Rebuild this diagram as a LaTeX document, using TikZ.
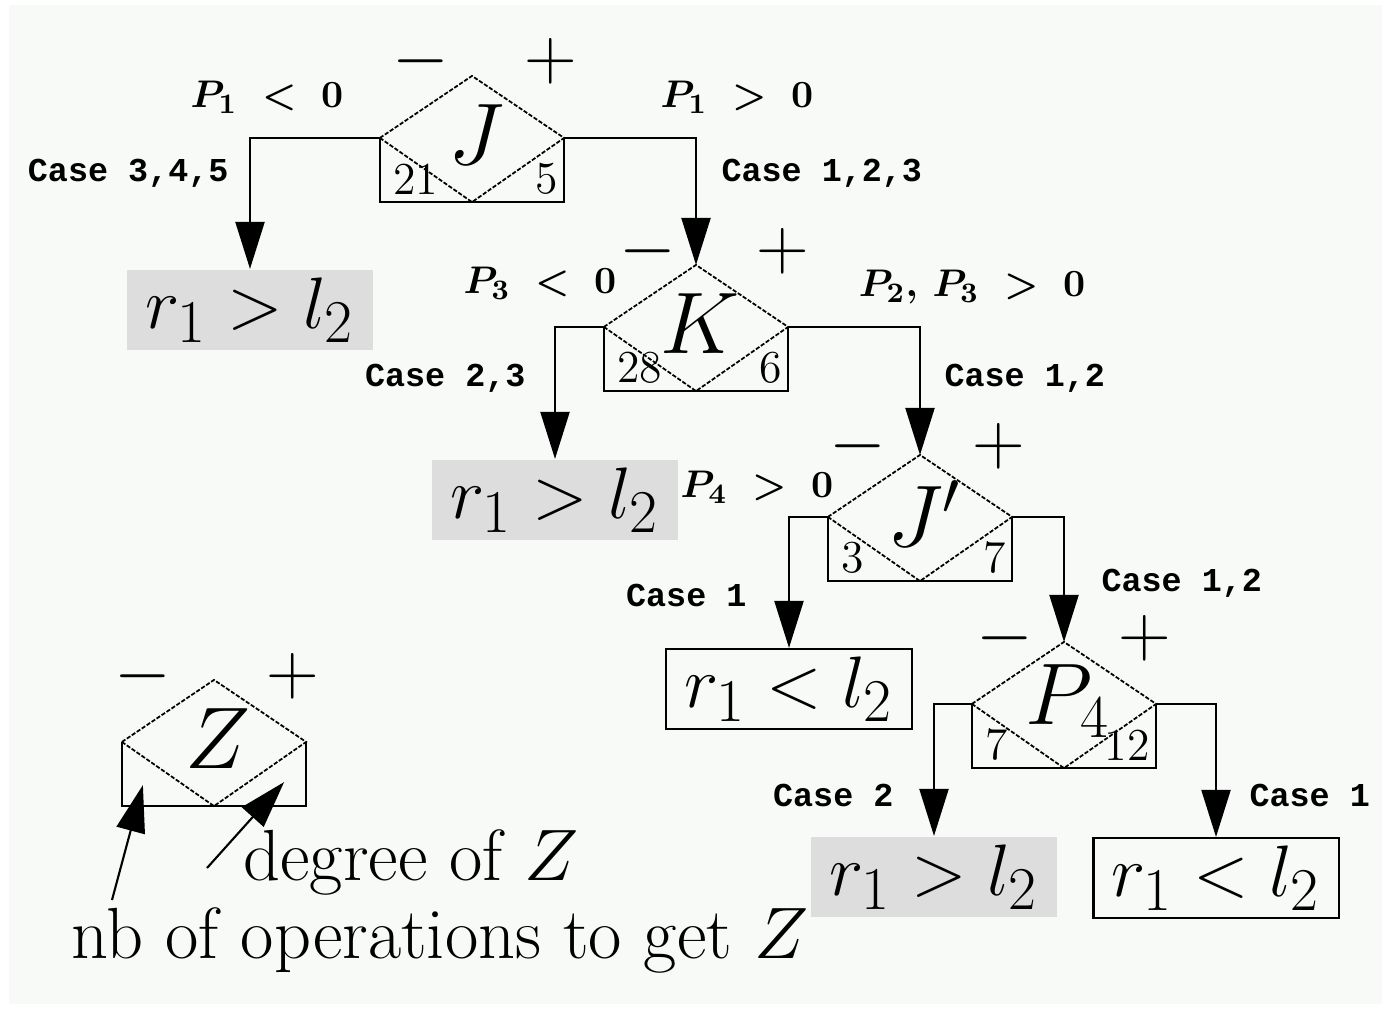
\documentclass[tikz,border=0pt]{standalone}
\usepackage{fontspec}
\newfontfamily\casefont{Liberation Mono}
\usetikzlibrary{arrows.meta,positioning,calc}
\definecolor{bgPaper}{HTML}{F8FAF8}
\definecolor{resGray}{HTML}{DCDDDC}
\tikzset{
    every picture/.style={line width=0.6pt, >={Triangle[length=0.47cm,width=0.29cm]}},
    % decision nodes: open box with a diamond on top
    decbox/.style={rectangle,minimum width=1.82cm,minimum height=0.62cm,inner sep=0pt},
    rhomb/.style={line width=0.5pt,dash pattern=on 1.2pt off 0.5pt},
    varname/.style={font=\fontsize{23.5}{26}\selectfont,inner sep=0pt},
    degnum/.style={font=\fontsize{13}{14}\selectfont,inner sep=1pt},
    sign/.style={font=\fontsize{20}{22}\selectfont,inner sep=0pt},
    % labels on the branches
    cond/.style={font=\fontsize{11}{13}\selectfont\boldmath,inner sep=1pt},
    casetxt/.style={font=\casefont\bfseries\fontsize{9.5}{11}\selectfont,inner sep=1pt},
    % result boxes
    result/.style={rectangle,minimum width=2.45cm,minimum height=0.8cm,font=\fontsize{22.8}{25}\selectfont,inner sep=0pt},
    shaded/.style={result,fill=resGray},
    framed/.style={result,draw},
    branch/.style={->},
    legtext/.style={font=\fontsize{20.6}{24}\selectfont}
}

\begin{document}
\begin{tikzpicture}[x=0.01cm,y=-0.01cm]
    % paper
    \useasboundingbox (0,0) rectangle (1391,1012);
    \fill[white] (0,0) rectangle (1391,1012);
    \fill[bgPaper] (9,5) rectangle (1382,1004);

    % Decision nodes and legend node (signs placed from the diamond top)
    \foreach \n/\px/\py/\lbl/\lnum/\rnum/\mx/\ppx/\sy in {J/472/170/J/21/5/-51/79/-15, K/696/359/K/28/6/-48/87/-14, Jp/920/549/{J'}/3/7/-62/79/-9, P/1064/736/{P_4}/7/12/-59/81/-4, Z/214/774/Z/{}/{}/-71/79/-4} {
        \node[decbox] (\n) at (\px,\py) {};
        \coordinate (\n-top) at ($(\n.north)+(0,-62)$);
        \draw (\n.north west) -- (\n.south west) -- (\n.south east) -- (\n.north east);
        \draw[rhomb] (\n.north west) -- (\n-top) -- (\n.north east) -- (\n.south) -- cycle;
        \node[varname] at ($(\n.north)+(4,-3)$) {$\lbl$};
        \node[degnum,anchor=west] at ($(\n.west)+(9,9)$) {\lnum};
        \node[degnum,anchor=east] at ($(\n.east)+(-2,9)$) {\rnum};
        \node[sign] at ($(\n-top)+(\mx,\sy)$) {$-$};
        \node[sign] at ($(\n-top)+(\ppx,\sy)$) {$+$};
    }

    % Results
    \node[shaded] (res1) at (250,310) {$r_1 > l_2$};
    \node[shaded] (res2) at (555,500) {$r_1 > l_2$};
    \node[framed] (res3) at (789,689) {$r_1 < l_2$};
    \node[shaded] (res4) at (934,877) {$r_1 > l_2$};
    \node[framed] (res5) at (1216,878) {$r_1 < l_2$};

    % Branches
    \draw[branch] (J.north west) -| (res1.north);
    \draw[branch] (J.north east) -| (K-top);
    \draw[branch] (K.north west) -| (res2.north);
    \draw[branch] (K.north east) -| (Jp-top);
    \draw[branch] (Jp.north west) -| (res3.north);
    \draw[branch] (Jp.north east) -| (P-top);
    \draw[branch] (P.north west) -| (res4.north);
    \draw[branch] (P.north east) -| (res5.north);

    % Branch labels
    \node[cond] (c1) at (267,97) {$P_1\;<\;0$};
    \node[casetxt,anchor=east] (k1) at (233,173) {Case 3,4,5};
    \node[cond] (c2) at (737,97) {$P_1\;>\;0$};
    \node[casetxt,anchor=west] (k2) at (717,173) {Case 1,2,3};
    \node[cond] (c3) at (540,283) {$P_3\;<\;0$};
    \node[casetxt,anchor=east] (k3) at (530,378) {Case 2,3};
    \node[cond] (c4) at (972,287) {$P_2,\,P_3\;>\;0$};
    \node[casetxt,anchor=west] (k4) at (940,378) {Case 1,2};
    \node[cond] (c5) at (757,487) {$P_4\;>\;0$};
    \node[casetxt,anchor=east] (k5) at (751,595) {Case 1};
    \node[casetxt,anchor=west] (k6) at (1097,583) {Case 1,2};
    \node[casetxt,anchor=east] (k7) at (898,795) {Case 2};
    \node[casetxt,anchor=west] (k8) at (1245,795) {Case 1};

    % Legend
    \node[legtext] (degZ) at (411,862) {degree of $Z$};
    \node[legtext] (nbops) at (440,940) {nb of operations to get $Z$};
    \coordinate (nbtail) at (112,900);
    \coordinate (degtail) at (207,868);
    \draw[->] (nbtail) -- ($(Z.south west)+(21,-21)$);
    \draw[->] (degtail) -- ($(Z.south east)+(-22,-24)$);
\end{tikzpicture}
\end{document}
